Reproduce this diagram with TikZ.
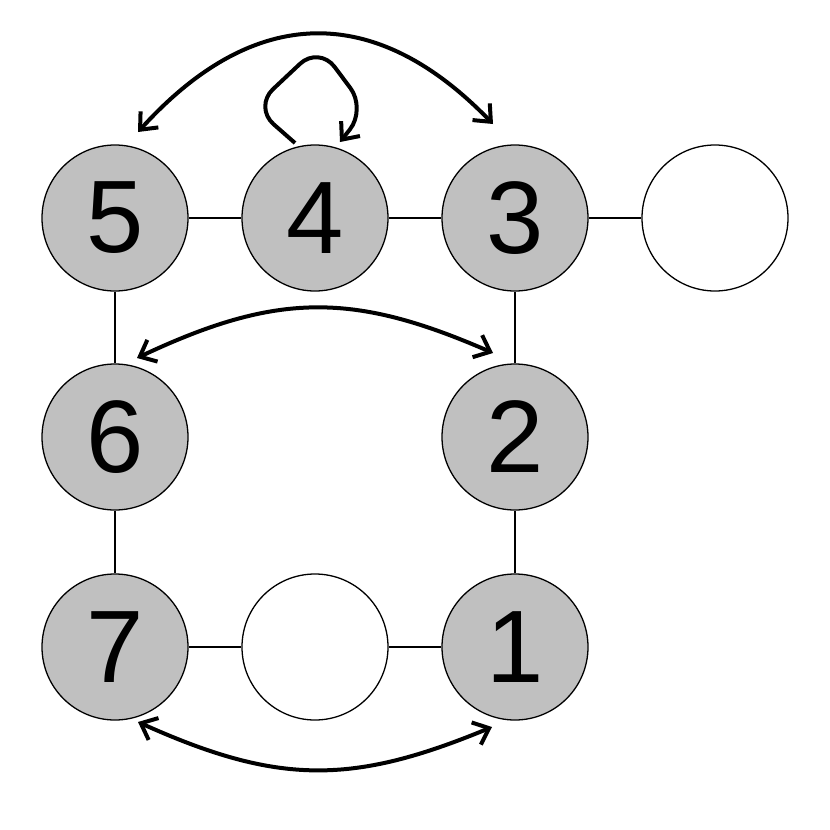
\documentclass[tikz,border=0pt]{standalone}
\usepackage{fontspec}
\setmainfont{Liberation Sans}
\usetikzlibrary{arrows.meta,calc}
\definecolor{nodegray}{RGB}{192,192,192}
\tikzset{
  vtx/.style={circle,draw=black,line width=1.3pt,minimum size=146pt,inner sep=0pt,
    font=\fontsize{103}{103}\selectfont},
  full/.style={vtx,fill=nodegray},
  empty/.style={vtx,fill=white},
  link/.style={line width=1.3pt},
  jump/.style={line width=4pt,{Straight Barb[length=14pt,width=24pt]}-{Straight Barb[length=14pt,width=24pt]}},
  selfjump/.style={line width=4pt,-{Straight Barb[length=14pt,width=24pt]},rounded corners=26pt}
}
\begin{document}
\begin{tikzpicture}[x=1pt,y=-1pt]
\useasboundingbox (0,0) rectangle (830,830);
\node[full] (n5) at (115,218) {5};
\node[full] (n4) at (315,218) {4};
\node[full] (n3) at (515,218) {3};
\node[empty] (e1) at (715,218) {};
\node[full] (n6) at (115,437) {6};
\node[full] (n2) at (515,437) {2};
\node[full] (n7) at (115,647) {7};
\node[empty] (e2) at (315,647) {};
\node[full] (n1) at (515,647) {1};
\draw[link] (n5) -- (n4);
\draw[link] (n4) -- (n3);
\draw[link] (n3) -- (e1);
\draw[link] (n5) -- (n6);
\draw[link] (n6) -- (n7);
\draw[link] (n7) -- (e2);
\draw[link] (e2) -- (n1);
\draw[link] (n1) -- (n2);
\draw[link] (n2) -- (n3);
% long arcs
\draw[jump] ($(n5)+(23,-86)$) .. controls (255,3) and (376,3) .. ($(n3)+(-22,-94)$);
\draw[jump] ($(n6)+(22,-79)$) .. controls (277,292) and (353,292) .. ($(n2)+(-22,-84)$);
\draw[jump] ($(n7)+(23,75)$) .. controls (278,785) and (352,785) .. ($(n1)+(-23,80)$);
% self loop
\draw[selfjump] ($(n4)+(-20,-75)$) -- (254,107) -- (319,46) -- (366,109) -- ($(n4)+(25,-76)$);
\end{tikzpicture}
\end{document}
